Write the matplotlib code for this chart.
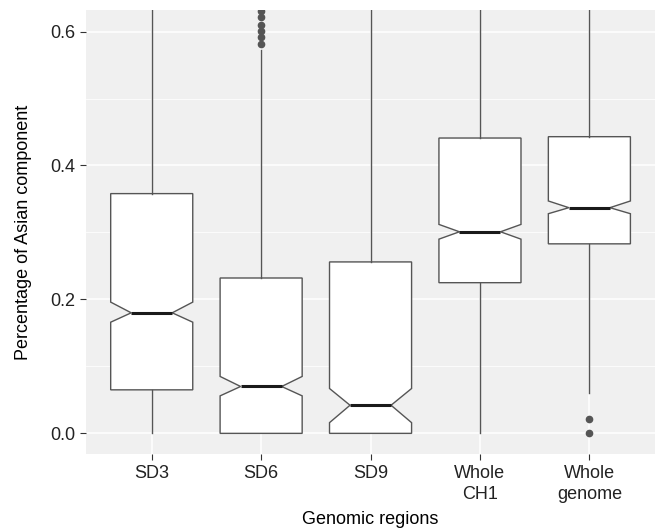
import matplotlib.pyplot as plt
import numpy as np

plt.rcParams['font.family'] = ['Liberation Sans', 'DejaVu Sans']

regions = ["SD3", "SD6", "SD9", "Whole\nCH1", "Whole\ngenome"]
q1 = [0.065, 0.0, 0.0, 0.225, 0.283]
median = [0.180, 0.070, 0.042, 0.301, 0.337]
q3 = [0.358, 0.232, 0.256, 0.441, 0.443]
notch_lo = [0.166, 0.056, 0.016, 0.290, 0.328]
notch_hi = [0.196, 0.085, 0.067, 0.312, 0.347]
whisk_lo = [0.0, 0.0, 0.0, 0.0, 0.06]
whisk_hi = [1.0, 0.572, 1.0, 1.0, 1.0]
outliers = [
    [],
    [0.582, 0.592, 0.601, 0.610, 0.622, 0.630, 0.64, 0.66],
    [],
    [],
    [0.0, 0.021],
]

stats = []
for i in range(len(regions)):
    stats.append(dict(q1=q1[i], med=median[i], q3=q3[i], cilo=notch_lo[i], cihi=notch_hi[i],
                      whislo=whisk_lo[i], whishi=whisk_hi[i], fliers=outliers[i]))

fig = plt.figure(figsize=(6.57, 5.32), dpi=100)
ax = fig.add_axes([0.131, 0.147, 0.866, 0.834])
ax.set_facecolor("#F0F0F0")

pos = np.arange(1, len(regions) + 1)
edge = "#555555"
ax.bxp(stats, positions=pos, widths=0.75, shownotches=True, showcaps=False, patch_artist=True,
       boxprops=dict(facecolor="white", edgecolor=edge, linewidth=1.0),
       whiskerprops=dict(color=edge, linewidth=1.0),
       medianprops=dict(color="#1a1a1a", linewidth=2.2),
       flierprops=dict(marker="o", markerfacecolor=edge, markeredgecolor=edge, markersize=4.5),
       zorder=3)

ax.set_xlim(0.4, 5.6)
ax.set_ylim(-0.0305, 0.632)
ax.set_yticks([0.0, 0.2, 0.4, 0.6])
ax.set_yticks([0.1, 0.3, 0.5], minor=True)
ax.set_yticklabels(["0.0", "0.2", "0.4", "0.6"])
ax.set_xticks(pos)
ax.set_xticklabels(regions, linespacing=1.3)
ax.grid(True, which="major", color="white", linewidth=1.1, zorder=0)
ax.grid(True, which="minor", axis="y", color="white", linewidth=0.55, zorder=0)
ax.set_axisbelow(True)
for s in ax.spines.values():
    s.set_visible(False)
ax.tick_params(axis="both", which="major", length=4, color="#333333", labelsize=13,
               labelcolor="#222222", pad=4)
ax.tick_params(axis="y", which="minor", length=0)

ax.set_xlabel("Genomic regions", fontsize=13, labelpad=6)
ax.set_ylabel("Percentage of Asian component", fontsize=13, labelpad=13)

fig.savefig("out.png", dpi=100)
